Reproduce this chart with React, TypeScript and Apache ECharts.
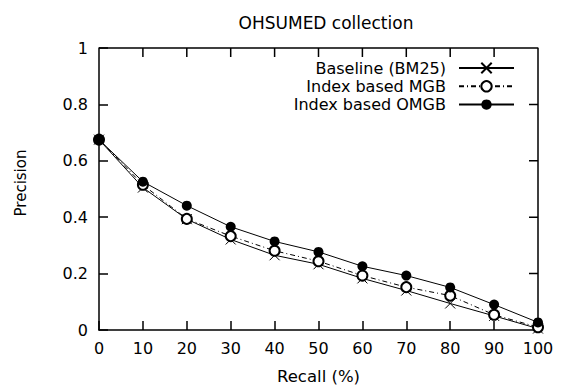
import React, { useEffect, useRef } from "react";
import * as echarts from "echarts";

const recall = [0, 10, 20, 30, 40, 50, 60, 70, 80, 90, 100];
const yTicks = [0, 0.2, 0.4, 0.6, 0.8, 1];
const baseline = [0.675, 0.505, 0.393, 0.321, 0.265, 0.233, 0.183, 0.14, 0.094, 0.05, 0.005];
const mgb = [0.675, 0.515, 0.394, 0.333, 0.281, 0.244, 0.193, 0.152, 0.122, 0.054, 0.01];
const omgb = [0.675, 0.526, 0.441, 0.366, 0.314, 0.277, 0.226, 0.193, 0.151, 0.09, 0.027];
const seriesNames = ["Baseline (BM25)", "Index based MGB", "Index based OMGB"];
const titleText = "OHSUMED collection";
const xName = "Recall (%)";
const yName = "Precision";

const FONT = "DejaVu Sans, Liberation Sans, Arial, sans-serif";

export default function App() {
  const ref = useRef<HTMLDivElement>(null);
  useEffect(() => {
    document.body.style.margin = "0";
    const chart = echarts.init(ref.current!, null, { renderer: "svg" });
    const pairs = (ys: number[]) => recall.map((x, i) => [x, ys[i]]);
    const line = { show: true, onZero: false, lineStyle: { color: "#000", width: 1.5 } };
    const tick = { show: true, inside: true, length: 9, lineStyle: { color: "#000", width: 1.5 } };

    const xMin = recall[0];
    const xMax = recall[recall.length - 1];
    const yMin = yTicks[0];
    const yMax = yTicks[yTicks.length - 1];
    // tick lengths (9px) expressed in axis units for the mirrored top/right ticks
    const plotW = 563 - 99 - 25;
    const plotH = 390 - 48 - 58;
    const dy = (9 / plotH) * (yMax - yMin);
    const dx = (9 / plotW) * (xMax - xMin);
    const frameData: any[] = [[xMin, yMax], [xMax, yMax], [xMax, yMin]];
    const mirrorTicks: any[] = [];
    recall.slice(1, -1).forEach((r) => {
      mirrorTicks.push([r, yMax], [r, yMax - dy], ["-", "-"]);
    });
    yTicks.slice(1, -1).forEach((t) => {
      mirrorTicks.push([xMax, t], [xMax - dx, t], ["-", "-"]);
    });

    chart.setOption({
      animation: false,
      textStyle: { fontFamily: FONT },
      title: {
        text: titleText,
        left: 321,
        top: 9,
        textAlign: "center",
        textStyle: { fontFamily: FONT, fontSize: 17, fontWeight: "normal", color: "#000" },
      },
      grid: { left: 99, right: 25, top: 48, bottom: 58 },
      legend: {
        right: 48,
        top: 60,
        orient: "vertical",
        align: "right",
        itemWidth: 55,
        itemHeight: 13,
        itemGap: 2.3,
        padding: 0,
        textStyle: { fontFamily: FONT, fontSize: 16, lineHeight: 16, color: "#000", padding: [0, 8, 0, 0] },
        data: seriesNames,
      },
      xAxis: [
        {
          type: "value", min: xMin, max: xMax, interval: 10, position: "bottom",
          axisLine: line, axisTick: tick, splitLine: { show: false },
          axisLabel: { color: "#000", fontSize: 16, fontFamily: FONT, margin: 10 },
          name: xName, nameLocation: "middle", nameGap: 38,
          nameTextStyle: { color: "#000", fontSize: 16.5, fontFamily: FONT },
        },
      ],
      yAxis: [
        {
          type: "value", min: yMin, max: yMax, interval: 0.2, position: "left",
          axisLine: line, axisTick: tick, splitLine: { show: false },
          axisLabel: { color: "#000", fontSize: 16, fontFamily: FONT, margin: 11 },
        },
      ],
      graphic: [
        {
          type: "text",
          x: 21,
          y: 183,
          rotation: Math.PI / 2,
          style: {
            text: yName, fill: "#000", font: `15px ${FONT}`,
            align: "center", verticalAlign: "middle",
          },
        },
      ],
      series: [
        {
          name: "frame", type: "line", data: frameData,
          symbol: "none", clip: false, silent: true,
          lineStyle: { color: "#000", width: 1.5 }, z: 1,
        },
        {
          name: "mirrorTicks", type: "line", data: mirrorTicks,
          symbol: "none", clip: false, silent: true, connectNulls: false,
          lineStyle: { color: "#000", width: 1.5 }, z: 1,
        },
        {
          name: seriesNames[0], type: "line", data: pairs(baseline),
          symbol: "path://M0,0L10,10M10,0L0,10", symbolSize: 10,
          lineStyle: { color: "#000", width: 1 },
          itemStyle: { color: "#000", borderColor: "#000", borderWidth: 1 },
          z: 3,
        },
        {
          name: seriesNames[1], type: "line", data: pairs(mgb),
          symbol: "emptyCircle", symbolSize: 10,
          lineStyle: { color: "#000", width: 1, type: [5, 3, 1, 3] },
          itemStyle: { color: "#000", borderColor: "#000", borderWidth: 1 },
          z: 4,
        },
        {
          name: seriesNames[2], type: "line", data: pairs(omgb),
          symbol: "circle", symbolSize: 10,
          lineStyle: { color: "#000", width: 1 },
          itemStyle: { color: "#000" },
          z: 5,
        },
      ],
    });
    return () => chart.dispose();
  }, []);
  return <div ref={ref} style={{ width: 563, height: 390 }} />;
}
